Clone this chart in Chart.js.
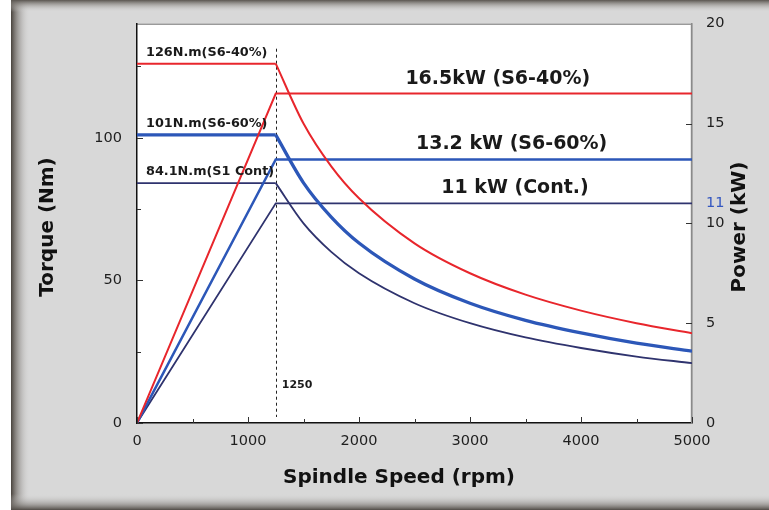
<!DOCTYPE html>
<html><head><meta charset="utf-8">
<script src="https://cdn.jsdelivr.net/npm/chart.js@4.4.1/dist/chart.umd.min.js"></script>
<style>html,body{margin:0;padding:0;background:#fff;}canvas{display:block}</style>
</head><body>
<canvas id="c" width="769" height="510"></canvas>
<script>
// ---- data ----
const constSpeed = [0, 1250];
const decaySpeed = [1250, 1500, 1750, 2000, 2500, 3000, 3500, 4000, 4500, 5000];
const torqueS640Flat = [126, 126];
const torqueS660Flat = [101, 101];
const torqueContFlat = [84.1, 84.1];
const torqueS640 = [126, 105, 90, 78.8, 63, 52.5, 45, 39.4, 35, 31.5];
const torqueS660 = [101, 84.2, 72.2, 63.1, 50.5, 42, 36, 31.6, 28, 25.2];
const torqueCont = [84.1, 70, 60, 52.5, 42, 35, 30, 26.3, 23.3, 21];
const powerSpeed = [0, 1250, 5000];
const powerS640 = [0, 16.5, 16.5];
const powerS660 = [0, 13.2, 13.2];
const powerCont = [0, 11, 11];
const speedTicks = [0, 1000, 2000, 3000, 4000, 5000];
const torqueTicks = [0, 50, 100];
const powerTicks = [0, 5, 10, 11, 15, 20];
const baseSpeed = 1250;
const torqueLabels = ['126N.m(S6-40%)', '101N.m(S6-60%)', '84.1N.m(S1 Cont)'];
const torqueLabelValues = [126, 101, 84.1];
const powerLabels = ['16.5kW (S6-40%)', '13.2 kW (S6-60%)', '11 kW (Cont.)'];
const powerLabelValues = [16.5, 13.2, 11];
const powerLabelSpeeds = [3250, 3375, 3405];

const RED = '#e8262c', BLUE = '#2c57b8', NAVY = '#2f336e';
const pts = (xs, ys) => xs.map((x, i) => ({x, y: ys[i]}));

const TICK_FONT = {family: 'DejaVu Sans', size: 14.5};
const TICK_COLOR = '#1e1e1e';

const framePlugin = {
  id: 'frame',
  beforeDraw(chart) {
    const {ctx, chartArea: a, width, height} = chart;
    ctx.save();
    ctx.fillStyle = '#fff'; ctx.fillRect(0, 0, width, height);
    ctx.fillStyle = '#d8d8d8'; ctx.fillRect(11, 0, width - 11, height);
    let g = ctx.createLinearGradient(11, 0, 30, 0);
    g.addColorStop(0, 'rgba(72,66,60,1)');
    g.addColorStop(0.3, 'rgba(120,115,110,0.7)');
    g.addColorStop(1, 'rgba(216,216,216,0)');
    ctx.fillStyle = g; ctx.fillRect(11, 0, 19, height);
    g = ctx.createLinearGradient(0, 0, 0, 12);
    g.addColorStop(0, 'rgba(90,85,80,1)');
    g.addColorStop(0.4, 'rgba(140,136,132,0.6)');
    g.addColorStop(1, 'rgba(216,216,216,0)');
    ctx.fillStyle = g; ctx.fillRect(11, 0, width - 11, 12);
    g = ctx.createLinearGradient(0, height, 0, height - 16);
    g.addColorStop(0, 'rgba(80,75,70,1)');
    g.addColorStop(0.35, 'rgba(130,126,122,0.6)');
    g.addColorStop(1, 'rgba(216,216,216,0)');
    ctx.fillStyle = g; ctx.fillRect(11, height - 16, width - 11, 16);
    ctx.fillStyle = '#fff';
    ctx.fillRect(a.left, a.top, a.right - a.left, a.bottom - a.top);
    ctx.strokeStyle = '#9a9a9a'; ctx.lineWidth = 1.5;
    ctx.beginPath();
    ctx.moveTo(a.left, a.top + 0.5); ctx.lineTo(a.right - 0.5, a.top + 0.5); ctx.lineTo(a.right - 0.5, a.bottom);
    ctx.stroke();
    ctx.restore();
  },
  beforeDatasetsDraw(chart) {
    const {ctx, chartArea: a, scales} = chart;
    const x = Math.round(scales.x.getPixelForValue(baseSpeed)) + 0.5;
    ctx.save();
    ctx.strokeStyle = '#222'; ctx.lineWidth = 1; ctx.setLineDash([3, 3]);
    ctx.beginPath(); ctx.moveTo(x, a.top + 25); ctx.lineTo(x, a.bottom - 6); ctx.stroke();
    ctx.restore();
  },
  afterDraw(chart) {
    const {ctx, chartArea: a, scales} = chart;
    const xs = scales.x, ys = scales.y, ps = scales.y2;
    ctx.save();
    // inward tick marks
    ctx.strokeStyle = '#333'; ctx.lineWidth = 1;
    ctx.beginPath();
    for (let v = 0; v <= 5000; v += 500) {
      const px = Math.round(xs.getPixelForValue(v)) + 0.5;
      const len = v % 1000 === 0 ? 6 : 4;
      ctx.moveTo(px, a.bottom); ctx.lineTo(px, a.bottom - len);
    }
    for (let v = 0; v <= 125; v += 25) {
      const py = Math.round(ys.getPixelForValue(v)) + 0.5;
      const len = v % 50 === 0 ? 6 : 4;
      ctx.moveTo(a.left, py); ctx.lineTo(a.left + len, py);
    }
    for (let v = 5; v <= 15; v += 5) {
      const py = Math.round(ps.getPixelForValue(v)) + 0.5;
      ctx.moveTo(a.right, py); ctx.lineTo(a.right - 6, py);
    }
    ctx.stroke();
    // torque labels
    ctx.fillStyle = '#1a1a1a';
    ctx.font = 'bold 12.8px "DejaVu Sans"';
    ctx.textAlign = 'left'; ctx.textBaseline = 'middle';
    torqueLabels.forEach((t, i) => {
      ctx.fillText(t, a.left + 9, ys.getPixelForValue(torqueLabelValues[i]) - 11);
    });
    // power labels
    ctx.font = 'bold 19px "DejaVu Sans"';
    ctx.textAlign = 'center';
    powerLabels.forEach((t, i) => {
      ctx.fillText(t, xs.getPixelForValue(powerLabelSpeeds[i]), ps.getPixelForValue(powerLabelValues[i]) - 15);
    });
    // base speed label
    ctx.font = 'bold 11px "DejaVu Sans"';
    ctx.textAlign = 'left';
    ctx.fillText(String(baseSpeed), xs.getPixelForValue(baseSpeed) + 6, a.bottom - 38);
    // axis titles
    ctx.fillStyle = '#111';
    ctx.font = 'bold 20px "DejaVu Sans"';
    ctx.textAlign = 'center';
    ctx.fillText('Spindle Speed (rpm)', 399, 478);
    ctx.save(); ctx.translate(48, 227); ctx.rotate(-Math.PI / 2);
    ctx.fillText('Torque (Nm)', 0, 0); ctx.restore();
    ctx.save(); ctx.translate(740, 227); ctx.rotate(-Math.PI / 2);
    ctx.fillText('Power (kW)', 0, 0); ctx.restore();
    ctx.restore();
  }
};

const lineDs = (label, data, color, width, axis, smooth) => ({
  label, data, borderColor: color, backgroundColor: color, borderWidth: width,
  yAxisID: axis, pointRadius: 0, fill: false,
  cubicInterpolationMode: smooth ? 'monotone' : 'default', tension: 0
});

const plain = v => String(v);

new Chart(document.getElementById('c'), {
  type: 'line',
  data: {
    datasets: [
      lineDs('Torque S6-40% const', pts(constSpeed, torqueS640Flat), RED, 2, 'y', false),
      lineDs('Torque S6-40%', pts(decaySpeed, torqueS640), RED, 2, 'y', true),
      lineDs('Power S6-40%', pts(powerSpeed, powerS640), RED, 2, 'y2', false),
      lineDs('Torque S6-60% const', pts(constSpeed, torqueS660Flat), BLUE, 3.3, 'y', false),
      lineDs('Torque S6-60%', pts(decaySpeed, torqueS660), BLUE, 3.3, 'y', true),
      lineDs('Power S6-60%', pts(powerSpeed, powerS660), BLUE, 2.5, 'y2', false),
      lineDs('Torque S1 const', pts(constSpeed, torqueContFlat), NAVY, 1.8, 'y', false),
      lineDs('Torque S1', pts(decaySpeed, torqueCont), NAVY, 1.8, 'y', true),
      lineDs('Power S1', pts(powerSpeed, powerCont), NAVY, 1.8, 'y2', false)
    ]
  },
  options: {
    responsive: false,
    animation: false,
    devicePixelRatio: 1,
    layout: {padding: {top: 20, left: 0, right: 0, bottom: 0}},
    plugins: {legend: {display: false}, tooltip: {enabled: false}},
    scales: {
      x: {
        type: 'linear', min: 0, max: 5000,
        afterBuildTicks: s => { s.ticks = speedTicks.map(v => ({value: v})); },
        afterFit: s => { s.height = 87; },
        grid: {display: false, drawTicks: false},
        border: {display: true, color: '#111', width: 1.5},
        ticks: {font: TICK_FONT, color: TICK_COLOR, padding: 10, maxRotation: 0, callback: plain}
      },
      y: {
        type: 'linear', position: 'left', min: 0, max: 140,
        afterBuildTicks: s => { s.ticks = torqueTicks.map(v => ({value: v})); },
        afterFit: s => { s.width = 137; },
        grid: {display: false, drawTicks: false},
        border: {display: true, color: '#111', width: 1.5},
        ticks: {font: TICK_FONT, color: TICK_COLOR, padding: 15, callback: plain}
      },
      y2: {
        type: 'linear', position: 'right', min: 0, max: 20,
        afterBuildTicks: s => { s.ticks = powerTicks.map(v => ({value: v})); },
        afterFit: s => { s.width = 77; },
        grid: {display: false, drawTicks: false},
        border: {display: true, color: '#8a8a8a', width: 1.5},
        ticks: {
          font: TICK_FONT, padding: 14, callback: plain,
          color: c => (c.tick && c.tick.value === 11) ? '#3457c0' : TICK_COLOR
        }
      }
    }
  },
  plugins: [framePlugin]
});
</script>
</body></html>
